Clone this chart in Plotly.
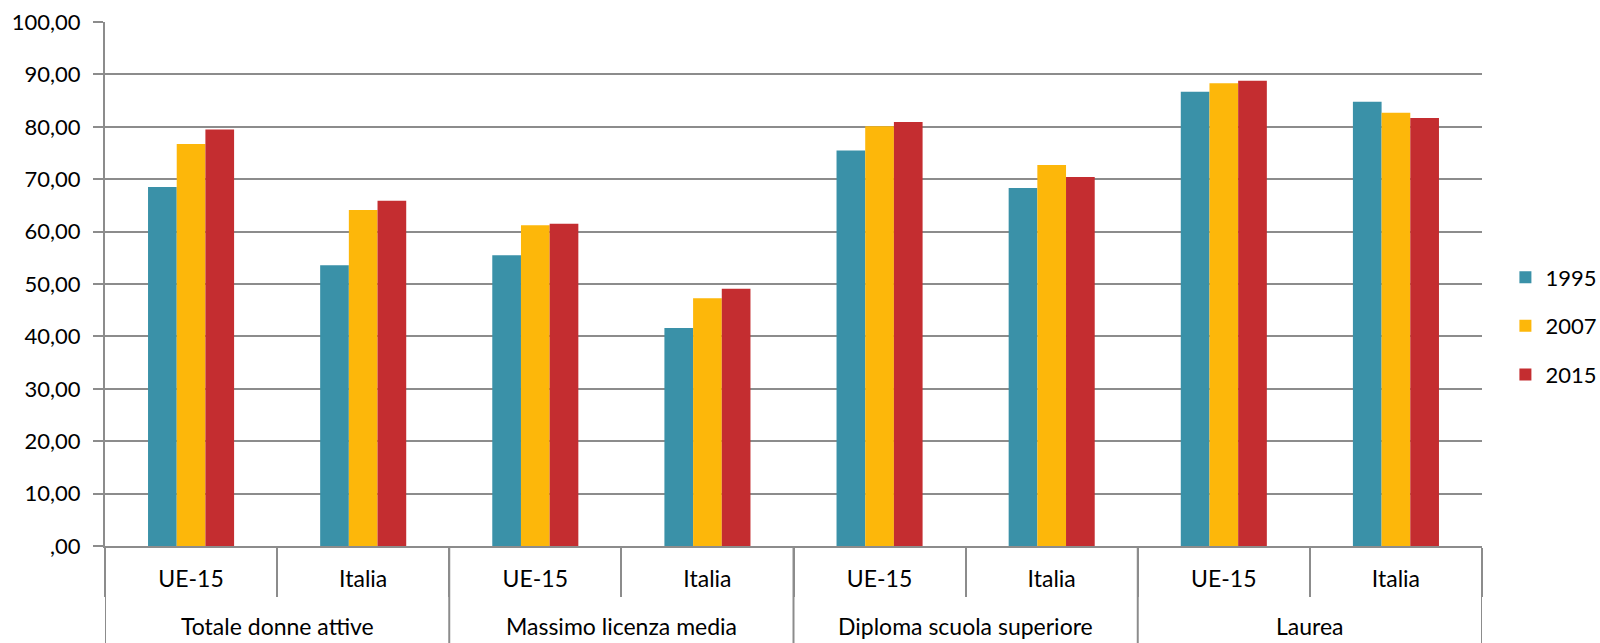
import plotly.graph_objects as go

groups = ["Totale donne attive", "Totale donne attive",
          "Massimo licenza media", "Massimo licenza media",
          "Diploma scuola superiore", "Diploma scuola superiore",
          "Laurea", "Laurea"]
areas = ["UE-15", "Italia"] * 4

series_names = ["1995", "2007", "2015"]
v1995 = [68.5, 53.6, 55.5, 41.6, 75.5, 68.3, 86.7, 84.8]
v2007 = [76.7, 64.1, 61.2, 47.3, 80.1, 72.7, 88.3, 82.7]
v2015 = [79.5, 65.9, 61.5, 49.1, 80.9, 70.4, 88.8, 81.7]
colors = ["#3a91a8", "#fdb70a", "#c42d30"]

y_tickvals = [0, 10, 20, 30, 40, 50, 60, 70, 80, 90, 100]
y_ticktext = [",00", "10,00", "20,00", "30,00", "40,00", "50,00",
              "60,00", "70,00", "80,00", "90,00", "100,00"]

FONT = "Lato, 'Open Sans', sans-serif"
GRID = "#8c8c8c"

# unique category keys built from the two label levels
keys = [f"{g}|{a}" for g, a in zip(groups, areas)]

fig = go.Figure()
for name, vals, col in zip(series_names, [v1995, v2007, v2015], colors):
    fig.add_trace(go.Bar(
        x=keys, y=vals, name=name, legendgroup=name,
        marker=dict(color=col, line=dict(width=0)),
    ))

# outer group labels and dividers (positions from category indices)
group_order = []
for g in groups:
    if g not in group_order:
        group_order.append(g)
annotations = []
shapes = []
for g in group_order:
    idx = [i for i, gg in enumerate(groups) if gg == g]
    center = sum(idx) / len(idx)
    annotations.append(dict(
        x=center, xref="x", y=0, yref="paper", yanchor="middle",
        yshift=-80, text=g, showarrow=False,
        font=dict(family=FONT, size=23, color="#000000"),
    ))
    shapes.append(dict(type="line", xref="x", yref="paper",
                       x0=idx[0] - 0.5, x1=idx[0] - 0.5, y0=0, y1=-0.3,
                       line=dict(color=GRID, width=2)))
shapes.append(dict(type="line", xref="x", yref="paper",
                   x0=len(groups) - 0.5, x1=len(groups) - 0.5, y0=0, y1=-0.3,
                   line=dict(color=GRID, width=2)))

fig.update_layout(
    width=1600, height=643,
    margin=dict(l=105, r=118, t=22, b=97, autoexpand=False),
    paper_bgcolor="white", plot_bgcolor="white",
    barmode="group", bargap=0.5, bargroupgap=0,
    font=dict(family=FONT, size=23, color="#000000"),
    legend=dict(x=1.017, y=0.42, xanchor="left", yanchor="middle",
                font=dict(size=22), itemwidth=30, tracegroupgap=17,
                traceorder="grouped"),
    showlegend=True,
    annotations=annotations,
    shapes=shapes,
)
fig.update_xaxes(
    type="category", range=[-0.5, len(groups) - 0.5],
    tickvals=keys, ticktext=areas,
    showline=True, linecolor=GRID, linewidth=2,
    ticks="outside", tickson="boundaries", ticklen=49,
    tickcolor=GRID, tickwidth=2,
    showgrid=False, ticklabelstandoff=11,
    tickfont=dict(size=23),
)
fig.update_yaxes(
    range=[0, 100], tickvals=y_tickvals, ticktext=y_ticktext,
    showgrid=True, gridcolor=GRID, gridwidth=1.5,
    showline=True, linecolor=GRID, linewidth=2,
    ticks="outside", ticklen=10, tickcolor=GRID, tickwidth=1.5,
    zeroline=False, tickfont=dict(size=22), ticklabelstandoff=8,
)

fig.write_html(
    "out.html",
    config={"displayModeBar": False},
    post_script="document.body.style.margin='0';document.body.style.overflow='hidden';",
)
